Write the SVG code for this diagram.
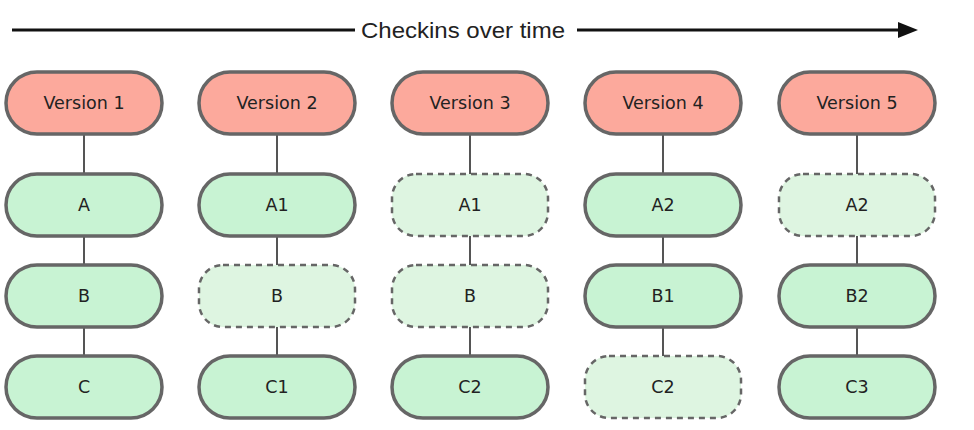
<svg xmlns="http://www.w3.org/2000/svg" width="974" height="430" viewBox="0 0 974 430">
<style>
.v{fill:#fca99c;stroke:#666;stroke-width:3.5}
.s{fill:#c8f3d3;stroke:#666;stroke-width:3.5}
.d{fill:#def5e1;stroke:#666;stroke-width:2.5;stroke-dasharray:6 5}
text{font-family:"DejaVu Sans",Verdana,sans-serif;font-size:17.5px;fill:#222;text-anchor:middle;dominant-baseline:central}
.t{font-family:"Liberation Sans",Arial,sans-serif;font-size:22px}
.c line{stroke:#555;stroke-width:2}
</style>
<g id="timeline">
<line x1="12" y1="30" x2="355" y2="30" stroke="#111" stroke-width="3"/>
<line x1="577" y1="30" x2="900" y2="30" stroke="#111" stroke-width="3"/>
<path d="M898,22 L918,30 L898,38 Z" fill="#111"/>
<text class="t" x="463" y="30" textLength="204" lengthAdjust="spacingAndGlyphs">Checkins over time</text>
</g>
<g class="c" id="connectors">
<line x1="84" y1="133" x2="84" y2="356"/>
<line x1="277" y1="133" x2="277" y2="356"/>
<line x1="470" y1="133" x2="470" y2="356"/>
<line x1="663" y1="133" x2="663" y2="356"/>
<line x1="857" y1="133" x2="857" y2="356"/>
</g>
<g id="v1"><rect class="v" x="6" y="72" width="156" height="62" rx="31"/><text x="84" y="103">Version 1</text></g>
<g id="v2"><rect class="v" x="199" y="72" width="156" height="62" rx="31"/><text x="277" y="103">Version 2</text></g>
<g id="v3"><rect class="v" x="392" y="72" width="156" height="62" rx="31"/><text x="470" y="103">Version 3</text></g>
<g id="v4"><rect class="v" x="585" y="72" width="156" height="62" rx="31"/><text x="663" y="103">Version 4</text></g>
<g id="v5"><rect class="v" x="779" y="72" width="156" height="62" rx="31"/><text x="857" y="103">Version 5</text></g>

<g id="a1"><rect class="s" x="6" y="174" width="156" height="62" rx="31"/><text x="84" y="205">A</text></g>
<g id="b1"><rect class="s" x="6" y="265" width="156" height="62" rx="31"/><text x="84" y="296">B</text></g>
<g id="c1"><rect class="s" x="6" y="356" width="156" height="62" rx="31"/><text x="84" y="387">C</text></g>

<g id="a2"><rect class="s" x="199" y="174" width="156" height="62" rx="31"/><text x="277" y="205">A1</text></g>
<g id="b2"><rect class="d" x="199" y="265" width="156" height="62" rx="24"/><text x="277" y="296">B</text></g>
<g id="c2"><rect class="s" x="199" y="356" width="156" height="62" rx="31"/><text x="277" y="387">C1</text></g>

<g id="a3"><rect class="d" x="392" y="174" width="156" height="62" rx="24"/><text x="470" y="205">A1</text></g>
<g id="b3"><rect class="d" x="392" y="265" width="156" height="62" rx="24"/><text x="470" y="296">B</text></g>
<g id="c3"><rect class="s" x="392" y="356" width="156" height="62" rx="31"/><text x="470" y="387">C2</text></g>

<g id="a4"><rect class="s" x="585" y="174" width="156" height="62" rx="31"/><text x="663" y="205">A2</text></g>
<g id="b4"><rect class="s" x="585" y="265" width="156" height="62" rx="31"/><text x="663" y="296">B1</text></g>
<g id="c4"><rect class="d" x="585" y="356" width="156" height="62" rx="24"/><text x="663" y="387">C2</text></g>

<g id="a5"><rect class="d" x="779" y="174" width="156" height="62" rx="24"/><text x="857" y="205">A2</text></g>
<g id="b5"><rect class="s" x="779" y="265" width="156" height="62" rx="31"/><text x="857" y="296">B2</text></g>
<g id="c5"><rect class="s" x="779" y="356" width="156" height="62" rx="31"/><text x="857" y="387">C3</text></g>
</svg>
